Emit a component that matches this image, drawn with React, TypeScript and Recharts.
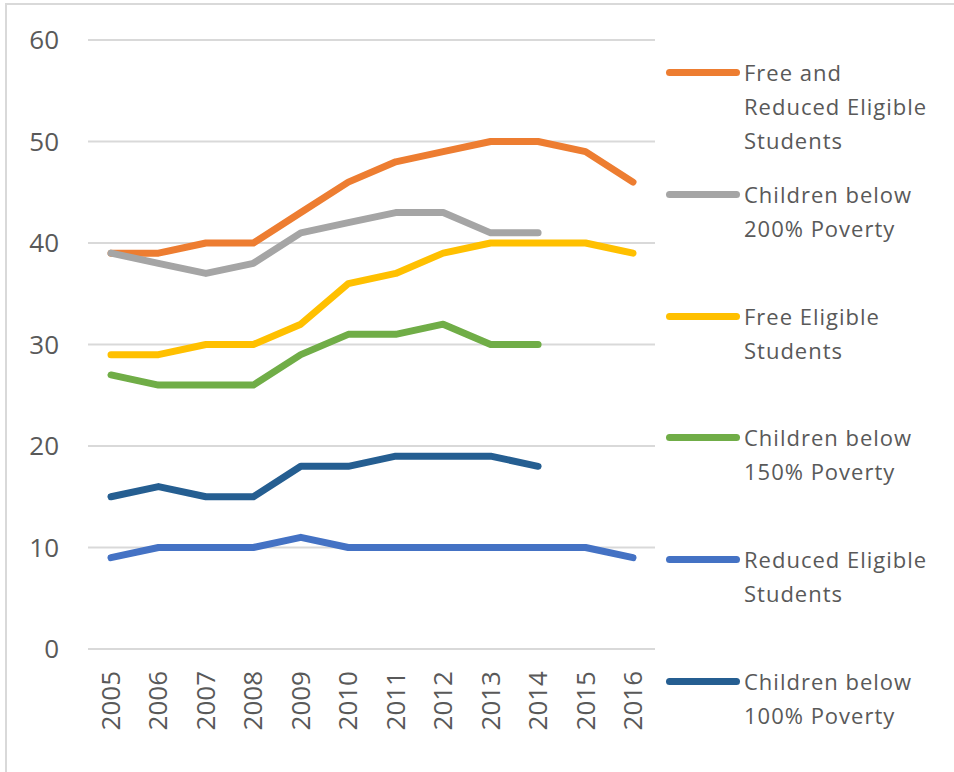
import { LineChart, Line, XAxis, YAxis, CartesianGrid } from 'recharts';

const years = ['2005', '2006', '2007', '2008', '2009', '2010', '2011', '2012', '2013', '2014', '2015', '2016'];

const freeAndReduced = [39, 39, 40, 40, 43, 46, 48, 49, 50, 50, 49, 46];
const below200 = [39, 38, 37, 38, 41, 42, 43, 43, 41, 41, null, null];
const freeEligible = [29, 29, 30, 30, 32, 36, 37, 39, 40, 40, 40, 39];
const below150 = [27, 26, 26, 26, 29, 31, 31, 32, 30, 30, null, null];
const reducedEligible = [9, 10, 10, 10, 11, 10, 10, 10, 10, 10, 10, 9];
const below100 = [15, 16, 15, 15, 18, 18, 19, 19, 19, 18, null, null];

const yTicks = [0, 10, 20, 30, 40, 50, 60];

const series = [
  { key: 'freeAndReduced', name: 'Free and Reduced Eligible Students', lines: ['Free and', 'Reduced Eligible', 'Students'], color: '#ED7D31' },
  { key: 'below200', name: 'Children below 200% Poverty', lines: ['Children below', '200% Poverty'], color: '#A5A5A5' },
  { key: 'freeEligible', name: 'Free Eligible Students', lines: ['Free Eligible', 'Students'], color: '#FFC000' },
  { key: 'below150', name: 'Children below 150% Poverty', lines: ['Children below', '150% Poverty'], color: '#70AD47' },
  { key: 'reducedEligible', name: 'Reduced Eligible Students', lines: ['Reduced Eligible', 'Students'], color: '#4472C4' },
  { key: 'below100', name: 'Children below 100% Poverty', lines: ['Children below', '100% Poverty'], color: '#255E91' },
];

const data = years.map((year, i) => ({
  year,
  freeAndReduced: freeAndReduced[i],
  below200: below200[i],
  freeEligible: freeEligible[i],
  below150: below150[i],
  reducedEligible: reducedEligible[i],
  below100: below100[i],
}));

const font = '"Open Sans", "Liberation Sans", sans-serif';

// legend drawn by hand so the labels wrap like the original
const ChartLegend = () => (
  <div style={{ position: 'absolute', left: 666, top: 55, width: 290, fontFamily: font }}>
    {series.map((s, i) => (
      <div key={s.key} style={{ position: 'absolute', left: 0, top: i * 121.8, width: 290 }}>
        <div
          style={{
            position: 'absolute',
            left: 0,
            top: 14,
            width: 74,
            height: 7,
            borderRadius: 4,
            background: s.color,
          }}
        />
        <div
          style={{
            position: 'absolute',
            left: 78,
            top: 0,
            fontSize: 22,
            lineHeight: '34px',
            letterSpacing: 1,
            color: '#595959',
            whiteSpace: 'nowrap',
          }}
        >
          {s.lines.map((l) => (
            <div key={l}>{l}</div>
          ))}
        </div>
      </div>
    ))}
  </div>
);

export default function App() {
  return (
    <div style={{ position: 'absolute', left: 0, top: 0, width: 954, height: 772, background: '#fff', overflow: 'hidden' }}>
      <div
        style={{
          position: 'absolute',
          left: 5,
          top: 3,
          width: 960,
          height: 780,
          borderLeft: '2px solid #D9D9D9',
          borderTop: '2px solid #D9D9D9',
        }}
      />
      <LineChart
        width={954}
        height={772}
        data={data}
        margin={{ top: 40, right: 299, bottom: 0, left: 0 }}
      >
        <CartesianGrid stroke="#D9D9D9" strokeWidth={2} vertical={false} />
        <XAxis
          dataKey="year"
          axisLine={false}
          tickLine={false}
          interval={0}
          height={123}
          padding={{ left: 23, right: 22 }}
          tick={({ x, y, payload }: any) => (
            <text
              x={x}
              y={y}
              transform={`rotate(-90, ${x}, ${y})`}
              dx={-14}
              dy={9}
              textAnchor="end"
              fill="#595959"
              fontSize={26}
              fontFamily={font}
            >
              {payload.value}
            </text>
          )}
        />
        <YAxis
          domain={[0, 60]}
          ticks={yTicks}
          axisLine={false}
          tickLine={false}
          width={88}
          tick={{ fill: '#595959', fontSize: 26, fontFamily: font, dx: -21 } as any}
        />
        {series.map((s) => (
          <Line
            key={s.key}
            dataKey={s.key}
            name={s.name}
            stroke={s.color}
            strokeWidth={7}
            dot={false}
            activeDot={false}
            strokeLinecap="round"
            strokeLinejoin="round"
            isAnimationActive={false}
          />
        ))}
      </LineChart>
      <ChartLegend />
    </div>
  );
}
